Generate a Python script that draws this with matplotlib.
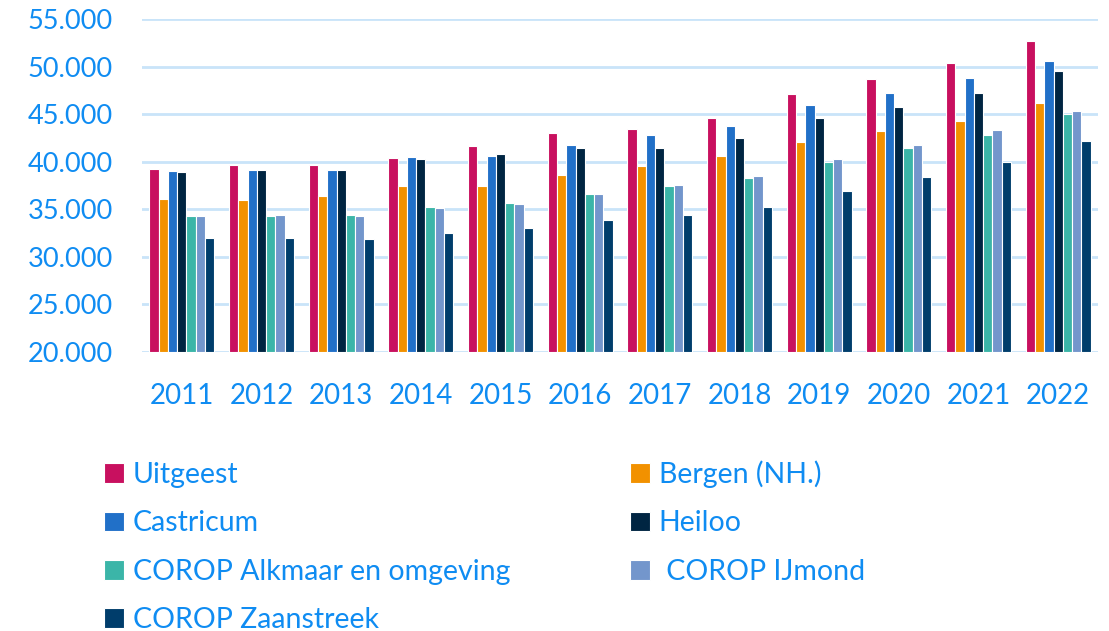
import numpy as np
import matplotlib.pyplot as plt
from matplotlib.ticker import FuncFormatter

# ----------------------- Data ---------------------------
years = ["2011", "2012", "2013", "2014", "2015", "2016",
         "2017", "2018", "2019", "2020", "2021", "2022"]

uitgeest = [39200, 39650, 39650, 40420, 41640, 42970, 43460, 44620, 47130, 48700, 50420, 52730]
bergen = [36120, 36000, 36370, 37410, 37410, 38560, 39510, 40590, 42100, 43210, 44300, 46120]
castricum = [39000, 39150, 39150, 40520, 40590, 41710, 42830, 43780, 45970, 47190, 48760, 50620]
heiloo = [38950, 39150, 39090, 40310, 40840, 41390, 41390, 42510, 44570, 45800, 47230, 49500]
alkmaar = [34270, 34270, 34400, 35280, 35700, 36600, 37410, 38270, 40000, 41390, 42830, 44990]
ijmond = [34270, 34400, 34270, 35100, 35590, 36600, 37520, 38480, 40280, 41780, 43310, 45380]
zaanstreek = [32000, 31930, 31830, 32520, 33010, 33920, 34400, 35290, 36960, 38390, 40000, 42160]

labels = ["Uitgeest", "Bergen (NH.)", "Castricum", "Heiloo",
          "COROP Alkmaar en omgeving", " COROP IJmond", "COROP Zaanstreek"]
series = [uitgeest, bergen, castricum, heiloo, alkmaar, ijmond, zaanstreek]
colors = ["#C8105F", "#F29100", "#2170C8", "#002542",
          "#3BB5A8", "#7396CC", "#003D6B"]

text_color = "#0F8CF2"
grid_color = "#C9E4F9"

# ----------------------- Plotting ---------------------------
plt.rcParams["font.family"] = ["Lato", "DejaVu Sans"]

fig = plt.figure(figsize=(11.09, 6.31), dpi=100)
ax = fig.add_axes([142 / 1109, 1 - 352 / 631, (1098 - 142) / 1109, (352 - 19) / 631])

x = np.arange(len(years))
n = len(series)
width = 0.82 / n
handles = []
for i, (vals, col, lab) in enumerate(zip(series, colors, labels)):
    offs = (i - (n - 1) / 2) * width
    h = ax.bar(x + offs, np.array(vals) - 20000, bottom=20000, width=width,
               color=col, edgecolor="white", linewidth=0.8, label=lab, zorder=3)
    handles.append(h)

ax.set_xlim(-0.5, len(years) - 0.5)
ax.set_ylim(20000, 55000)
ax.set_yticks(np.arange(20000, 55001, 5000))
ax.yaxis.set_major_formatter(FuncFormatter(lambda v, p: f"{int(v):,}".replace(",", ".")))
ax.set_xticks(x)
ax.set_xticklabels(years)

ax.grid(axis="y", color=grid_color, linewidth=2, zorder=0)
for s in ax.spines.values():
    s.set_visible(False)
ax.tick_params(axis="both", length=0, labelsize=20, labelcolor=text_color)
ax.tick_params(axis="x", pad=22)
ax.tick_params(axis="y", pad=21, labelsize=19.5)

# legend, filled row by row (two columns)
order = [0, 2, 4, 6, 1, 3, 5]
leg = fig.legend([handles[i] for i in order], [labels[i] for i in order],
                 ncol=2, loc="upper left", bbox_to_anchor=(78 / 1109, 1 - 435 / 631),
                 frameon=False, fontsize=20.5, handlelength=0.72, handleheight=0.7,
                 handletextpad=0.3, labelspacing=0.78, columnspacing=4.2,
                 labelcolor=text_color)

fig.savefig("out.png", dpi=100)
